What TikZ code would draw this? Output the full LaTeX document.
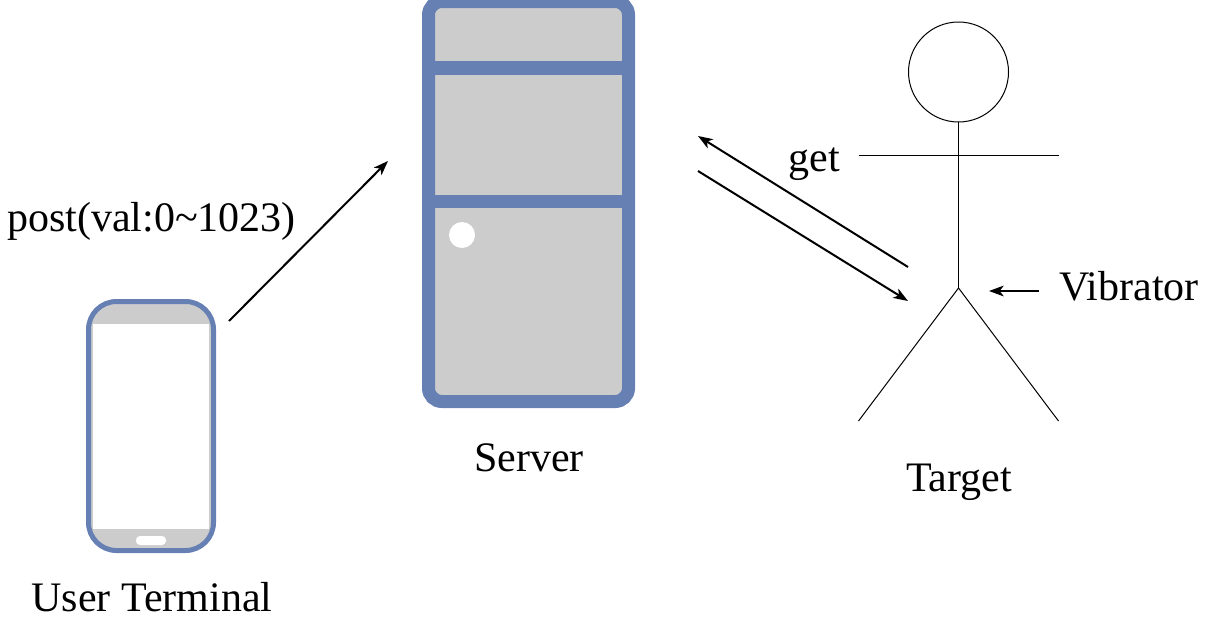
\documentclass[tikz,border=0pt]{standalone}
\usepackage{fontspec}
\setmainfont{Liberation Serif}
\usetikzlibrary{arrows.meta}
\definecolor{bluebar}{RGB}{103,128,179}
\definecolor{greyfill}{RGB}{204,204,204}
\tikzset{every picture/.style={line width=0.75pt}}
\tikzset{
  case/.style={draw=bluebar,fill=greyfill},
  figure/.style={draw=black,line width=0.75pt},
  msg/.style={draw=black,line width=1.5pt,-{Stealth[length=11pt,width=8pt,inset=3pt]}},
  lbl/.style={anchor=base,inner sep=0pt,font=\fontsize{31.5}{36}\selectfont}
}

\begin{document}
\begin{tikzpicture}[x=0.75pt,y=0.75pt,yscale=-1,xscale=1]
\useasboundingbox (0,0) rectangle (1209,621);

%Server
\draw [case,line width=9.75pt,rounded corners=10pt] (428.5,1.5) rectangle (628.5,401.5);
\fill [bluebar] (428.5,61) rectangle (628.5,75);
\fill [bluebar] (428.5,195) rectangle (628.5,208);
\fill [white] (462,235) circle [radius=13];

%Phone
\draw [case,line width=3.75pt,rounded corners=21pt] (88.5,301.5) rectangle (213.5,550.5);
\fill [white] (93,324) rectangle (209,529);
\fill [white,rounded corners=3pt] (136,536) rectangle (166,545);

%Target
\draw [figure] (958.5,72) circle [radius=50];
\draw [figure] (958.5,122) -- (958.5,288);
\draw [figure] (858.5,155) -- (1058.5,155);
\draw [figure] (858.5,421) -- (958.5,288) -- (1058.5,421);

% Arrow ends
\coordinate (phoneout) at (229,321);
\coordinate (serverin) at (388,161);
\coordinate (targetout) at (908,267);
\coordinate (serverout) at (698,136);
\coordinate (serverfrom) at (698,171);
\coordinate (targetin) at (908,301);
\coordinate (vibfrom) at (1039,291);
\coordinate (vibto) at (989,291);

\draw [msg] (phoneout) -- (serverin);
\draw [msg] (targetout) -- (serverout);
\draw [msg] (serverfrom) -- (targetin);
\draw [msg] (vibfrom) -- (vibto);

% Text Node
\node [lbl] (postlbl) at (151.5,231.5) {post(val:0\textasciitilde 1023)};
% Text Node
\node [lbl] (getlbl) at (814,171.5) {get};
% Text Node
\node [lbl] (serverlbl) at (529,471) {Server};
% Text Node
\node [lbl] (terminallbl) at (152,611) {User Terminal};
% Text Node
\node [lbl] (targetlbl) at (959,491) {Target};
% Text Node
\node [lbl] (vibratorlbl) at (1129,300.5) {Vibrator};
\end{tikzpicture}
\end{document}
